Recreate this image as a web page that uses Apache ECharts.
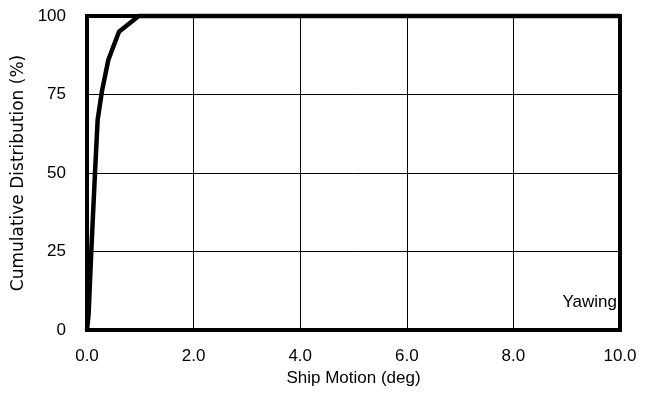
<!DOCTYPE html>
<html>
<head>
<meta charset="utf-8">
<script src="https://cdn.jsdelivr.net/npm/echarts@6/dist/echarts.min.js"></script>
<style>
  html, body { margin: 0; padding: 0; background: #fff; }
  #chart { width: 650px; height: 401px; }
</style>
</head>
<body>
<div id="chart"></div>
<script>
// Cumulative distribution of yawing motion
const motionDeg = [0, 0.03, 0.08, 0.15, 0.2, 0.28, 0.4, 0.6, 0.97, 10.0];
const cumulativePct = [0, 5, 25, 50, 67, 76, 86, 95, 100, 100];
const xTicks = [0, 2, 4, 6, 8, 10];
const yTicks = [0, 25, 50, 75, 100];
const seriesLabel = 'Yawing';

const points = motionDeg.map((x, i) => [x, cumulativePct[i]]);

const chart = echarts.init(document.getElementById('chart'), null, { renderer: 'canvas' });
const txt = { color: '#000', fontFamily: 'Liberation Sans', fontSize: 17 };

chart.setOption({
  animation: false,
  backgroundColor: '#fff',
  grid: {
    left: 87, right: 30, top: 16, bottom: 71,
    show: true, borderColor: '#000', borderWidth: 4
  },
  xAxis: {
    type: 'value',
    min: xTicks[0], max: xTicks[xTicks.length - 1], interval: 2,
    name: 'Ship Motion (deg)',
    nameLocation: 'middle', nameGap: 35,
    nameTextStyle: { ...txt },
    axisLine: { show: false },
    axisTick: { show: false },
    axisLabel: { ...txt, margin: 18, formatter: v => v.toFixed(1) },
    splitLine: { show: true, lineStyle: { color: '#000', width: 1 } }
  },
  yAxis: {
    type: 'value',
    min: yTicks[0], max: yTicks[yTicks.length - 1], interval: 25,
    name: 'Cumulative Distribution (%)',
    nameLocation: 'middle', nameGap: 52,
    nameTextStyle: { color: '#000', fontFamily: 'DejaVu Sans', fontSize: 17 },
    axisLine: { show: false },
    axisTick: { show: false },
    axisLabel: { ...txt, margin: 21 },
    splitLine: { show: true, lineStyle: { color: '#000', width: 1 } }
  },
  graphic: [{
    type: 'text', right: 33, top: 294,
    style: { text: seriesLabel, font: '17px "Liberation Sans"', fill: '#000' }
  }],
  series: [{
    name: seriesLabel,
    type: 'line',
    data: points,
    showSymbol: false,
    smooth: false,
    clip: false,
    lineStyle: { color: '#000', width: 4.5 }
  }]
});
</script>
</body>
</html>
